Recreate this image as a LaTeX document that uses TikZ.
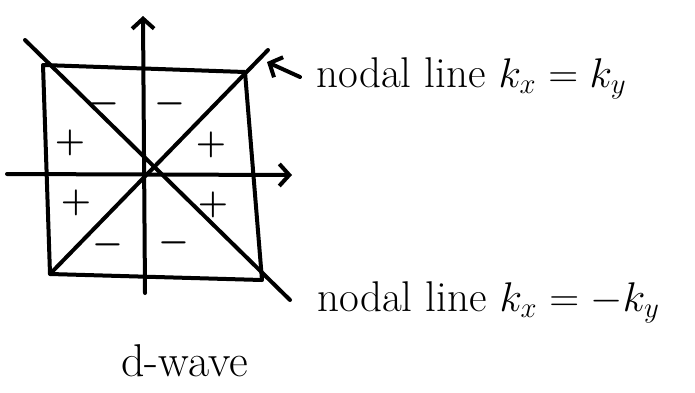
\documentclass[tikz,border=0pt]{standalone}
\usepackage{tikz}
\usetikzlibrary{arrows.meta,positioning}

\begin{document}
\begin{tikzpicture}[x=0.5pt,y=-0.5pt,
    pen/.style={line width=2pt,line cap=round,line join=round},
    axis/.style={pen,-{Straight Barb[length=5pt,width=11pt,line width=2pt]}},
    sgn/.style={font=\fontsize{19}{22}\selectfont\boldmath,inner sep=0pt},
    lab/.style={font=\fontsize{21.5}{25}\selectfont,anchor=base west,inner sep=0pt}]
    \useasboundingbox (0,0) rectangle (695,392);
    % square and nodal lines
    \coordinate (o) at (143,174);
    \coordinate (tl) at (43,65);
    \coordinate (tr) at (245,72);
    \coordinate (br) at (262,280);
    \coordinate (bl) at (50,274);
    \coordinate (ne) at (268,50);
    \coordinate (nw) at (25,40);
    \coordinate (se) at (290,300);
    \draw[pen] (tl) -- (tr) -- (br) -- (bl) -- cycle;
    \draw[pen] (bl) -- (ne);
    \draw[pen] (nw) -- (se);
    % axes
    \coordinate (xa) at (7,174);
    \coordinate (xb) at (292,175);
    \coordinate (ya) at (145,293);
    \coordinate (yb) at (143,16);
    \draw[axis] (xa) -- (xb);
    \draw[axis] (ya) -- (yb);
    % signs of the gap
    \node[sgn] (m1) at (104,104) {$-$};
    \node[sgn] (m2) at (170,104) {$-$};
    \node[sgn] (p1) at (70,143) {$+$};
    \node[sgn] (p2) at (211,145) {$+$};
    \node[sgn] (p3) at (76,203) {$+$};
    \node[sgn] (p4) at (213,205) {$+$};
    \node[sgn] (m3) at (108,245) {$-$};
    \node[sgn] (m4) at (174,243) {$-$};
    % labels
    \node[lab] (l1) at (316,87) {nodal line $k_x=k_y$};
    \node[lab] (l2) at (317,311) {nodal line $k_x=-k_y$};
    \node[lab,font=\fontsize{23}{27}\selectfont] (dw) at (121,376) {d-wave};
    \coordinate (tail) at (300,77);
    \coordinate (tip) at (267,62);
    \draw[axis] (tail) -- (tip);
\end{tikzpicture}
\end{document}
